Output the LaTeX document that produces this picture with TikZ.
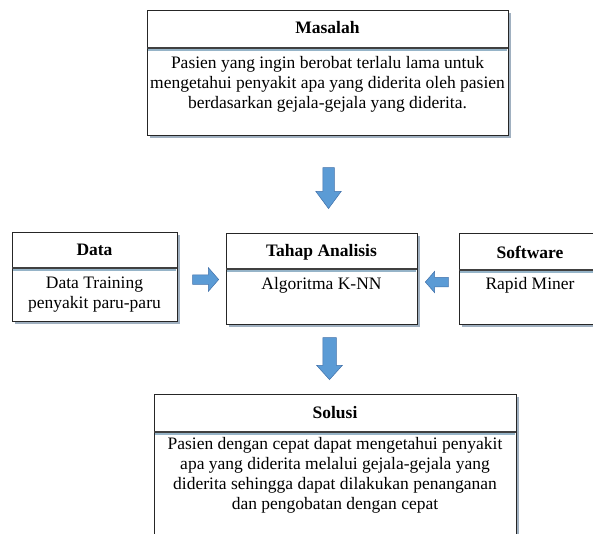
\documentclass[tikz,border=0pt]{standalone}
\usepackage{fontspec}
\setmainfont{Liberation Serif}
\usetikzlibrary{shapes.arrows,shadows}
\definecolor{biru}{RGB}{91,155,213}
\definecolor{birutua}{RGB}{65,113,170}
\definecolor{bayang}{RGB}{120,142,165}
\definecolor{sekatbiru}{RGB}{150,180,200}
\begin{document}
\begin{tikzpicture} [x=1pt,y=-1pt,
    kotak/.style={draw=black!85, line width=1pt, fill=white, anchor=north west,
        drop shadow={shadow xshift=2pt, shadow yshift=-2.5pt, fill=bayang, opacity=.7}},
    sekat/.style={draw=black!75, line width=1.2pt},
    sekatbawah/.style={draw=sekatbiru, line width=1.6pt},
    judul/.style={font=\fontsize{17.5}{20}\selectfont\bfseries},
    isi/.style={font=\fontsize{17.5}{20}\selectfont, align=center},
    panah/.style={single arrow, fill=biru, draw=birutua, line width=.5pt, minimum width=0pt, anchor=tip}]
    \useasboundingbox (0,0) rectangle (593,533);
    % kotak Masalah
    \node [kotak, minimum width=361pt, minimum height=125pt] (masalah) at (147,10) {};
    \draw [sekatbawah] (148,50) -- (507,50);
    \draw [sekat] (147,48) -- (508,48);
    \node [judul] (tMasalah) at (327.5,28) {Masalah};
    \node [isi] (iMasalah) at (327.5,84) {Pasien yang ingin berobat terlalu lama untuk\\mengetahui penyakit apa yang diderita oleh pasien\\berdasarkan gejala-gejala yang diderita.};
    % kotak Data
    \node [kotak, minimum width=165pt, minimum height=89pt] (data) at (12,232) {};
    \draw [sekatbawah] (13,270) -- (176,270);
    \draw [sekat] (12,268) -- (177,268);
    \node [judul] (tData) at (94.5,250) {Data};
    \node [isi] (iData) at (94.5,295) {Data Training\\penyakit paru-paru};
    % kotak Tahap Analisis
    \node [kotak, minimum width=191pt, minimum height=91pt] (analisis) at (226,233) {};
    \draw [sekatbawah] (227,271) -- (416,271);
    \draw [sekat] (226,269) -- (417,269);
    \node [judul] (tAnalisis) at (321.5,252) {Tahap Analisis};
    \node [isi] (iAnalisis) at (321.5,285) {Algoritma K-NN};
    % kotak Software
    \node [kotak, minimum width=142pt, minimum height=91pt] (software) at (459,233) {};
    \draw [sekatbawah] (460,272) -- (600,272);
    \draw [sekat] (459,270) -- (601,270);
    \node [judul] (tSoftware) at (530,252) {Software};
    \node [isi] (iSoftware) at (530,285) {Rapid Miner};
    % kotak Solusi
    \node [kotak, minimum width=362pt, minimum height=150pt] (solusi) at (154,394) {};
    \draw [sekatbawah] (155,434) -- (515,434);
    \draw [sekat] (154,432) -- (516,432);
    \node [judul] (tSolusi) at (335,413) {Solusi};
    \node [isi] (iSolusi) at (335,475) {Pasien dengan cepat dapat mengetahui penyakit\\apa yang diderita melalui gejala-gejala\ yang\\diderita sehingga dapat dilakukan penanganan\\dan pengobatan dengan cepat};
    % panah
    \node [panah, shape border rotate=270, inner xsep=5.5pt, inner ysep=0pt, single arrow head extend=7pt, minimum height=41pt, single arrow tip angle=73] (p1) at (328.5,209) {};
    \node [panah, shape border rotate=270, inner xsep=6.5pt, inner ysep=0pt, single arrow head extend=6pt, minimum height=42pt, single arrow tip angle=84] (p2) at (329.5,380) {};
    \node [panah, inner xsep=0pt, inner ysep=4.5pt, single arrow head extend=7pt, minimum height=26pt, single arrow tip angle=98] (p3) at (219,279.5) {};
    \node [panah, shape border rotate=180, inner xsep=0pt, inner ysep=4.5pt, single arrow head extend=6pt, minimum height=23pt, single arrow tip angle=98] (p4) at (425,282) {};
\end{tikzpicture}
\end{document}
